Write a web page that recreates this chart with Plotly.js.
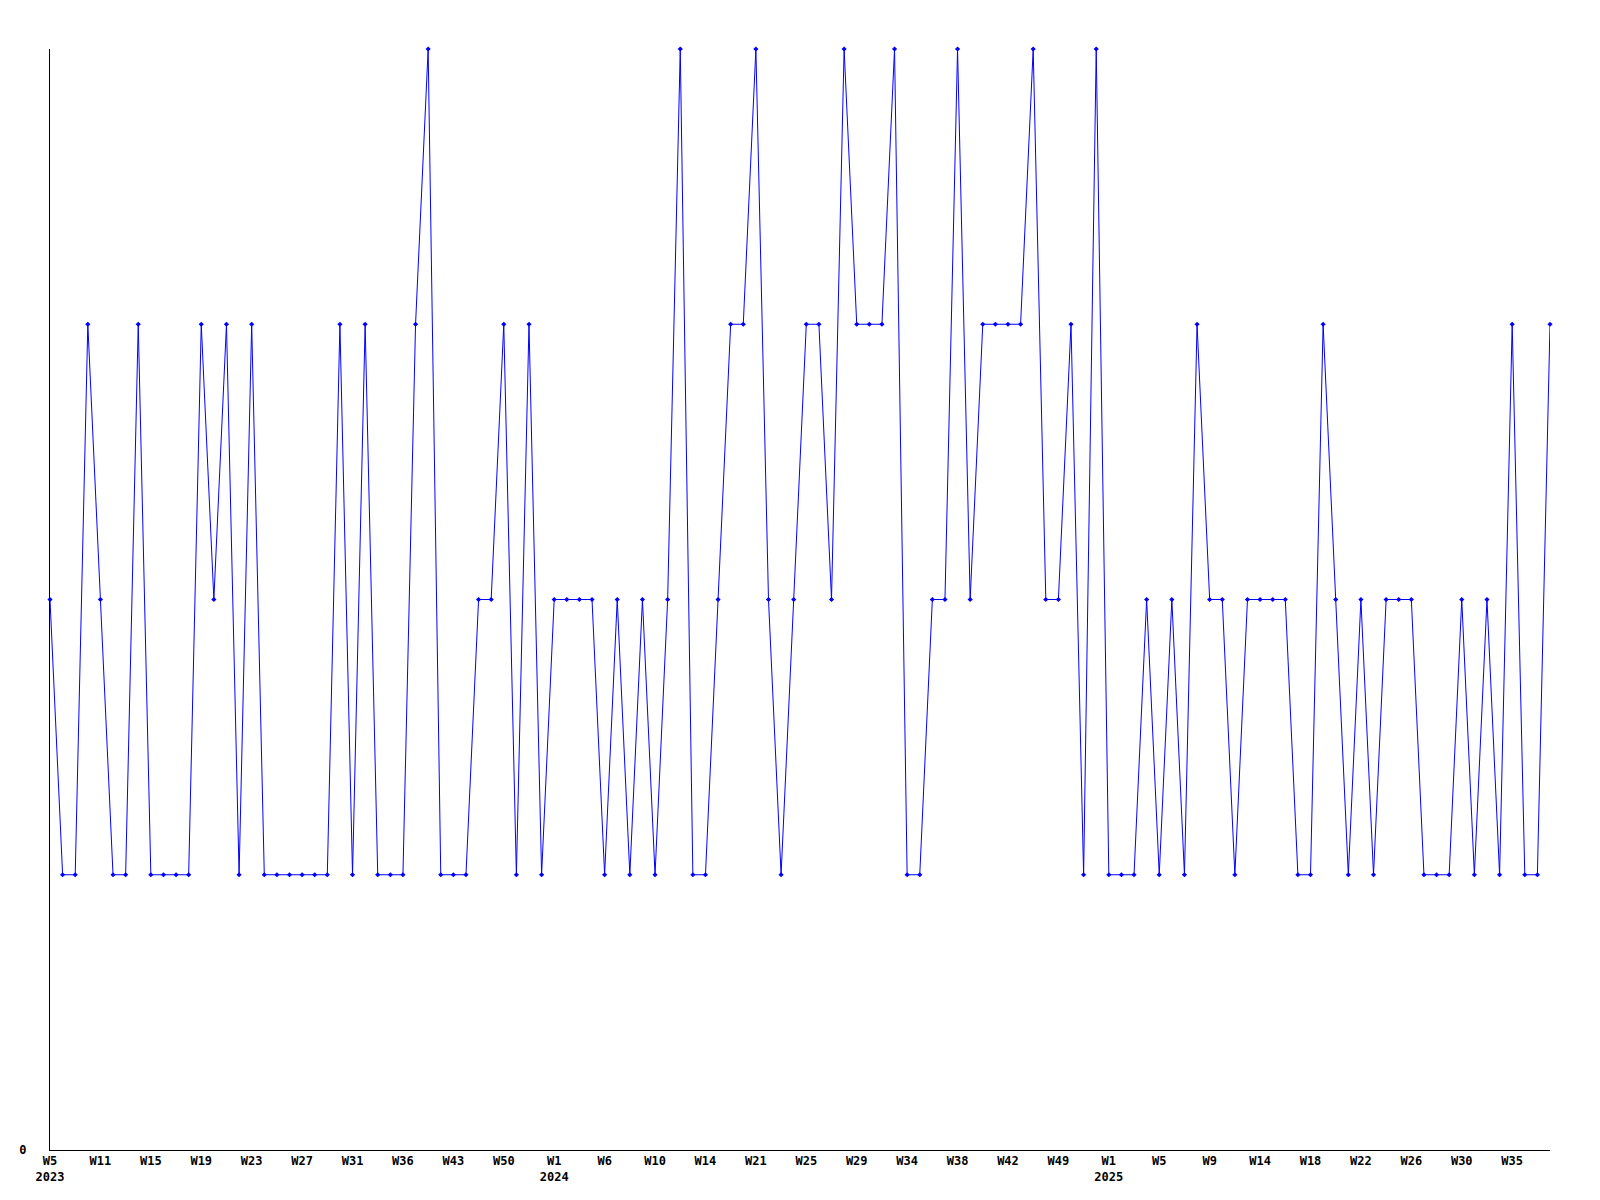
<!DOCTYPE html>
<html>
<head>
<meta charset="utf-8">
<script src="https://cdn.plot.ly/plotly-3.0.1.min.js"></script>
<style>html,body{margin:0;padding:0;background:#fff;}#chart{width:1600px;height:1200px;}</style>
</head>
<body>
<div id="chart"></div>
<script>
// Weekly values, one per point (120 points, W5 2023 onward)
const values = [
  2,1,1,3,2,1,1,3,1,1,1,1,3,2,3,1,3,1,1,1,
  1,1,1,3,1,3,1,1,1,3,4,1,1,1,2,2,3,1,3,1,
  2,2,2,2,1,2,1,2,1,2,4,1,1,2,3,3,4,2,1,2,
  3,3,2,4,3,3,3,4,1,1,2,2,4,2,3,3,3,3,4,2,
  2,3,1,4,1,1,1,2,1,2,1,3,2,2,1,2,2,2,2,1,
  1,3,2,1,2,1,2,2,2,1,1,1,2,1,2,1,3,1,1,3
];
// Tick positions (point index) and their labels
const tickIndex = [0,4,8,12,16,20,24,28,32,36,40,44,48,52,56,60,64,68,72,76,80,84,88,92,96,100,104,108,112,116];
const tickLabels = ["W5<br>2023","W11","W15","W19","W23","W27","W31","W36","W43","W50",
  "W1<br>2024","W6","W10","W14","W21","W25","W29","W34","W38","W42","W49",
  "W1<br>2025","W5","W9","W14","W18","W22","W26","W30","W35"];

const xs = values.map((v, i) => i);
const font = {family: "DejaVu Sans Mono, monospace", size: 12, color: "#000"};

Plotly.newPlot("chart", [{
  x: xs, y: values, type: "scatter", mode: "lines+markers",
  line: {color: "#0000ff", width: 1},
  marker: {color: "#0000ff", size: 4, symbol: "diamond"},
  cliponaxis: false, hoverinfo: "none"
}], {
  width: 1600, height: 1200,
  margin: {l: 50, r: 50, t: 49, b: 50, pad: 0},
  paper_bgcolor: "#fff", plot_bgcolor: "#fff",
  showlegend: false,
  font: font,
  xaxis: {
    range: [0, values.length - 1], showgrid: false, zeroline: false,
    showline: true, linecolor: "#000", linewidth: 1,
    tickmode: "array", tickvals: tickIndex, ticktext: tickLabels,
    ticks: "", tickfont: Object.assign({}, font, {weight: "bold"}), tickangle: 0
  },
  yaxis: {
    range: [0, 4], showgrid: false, zeroline: false,
    showline: true, linecolor: "#000", linewidth: 1,
    tickmode: "array", tickvals: [0], ticktext: ["0"],
    ticks: "", ticklabelstandoff: 20, tickfont: Object.assign({}, font, {weight: "bold"})
  }
}, {staticPlot: true});
</script>
</body>
</html>
